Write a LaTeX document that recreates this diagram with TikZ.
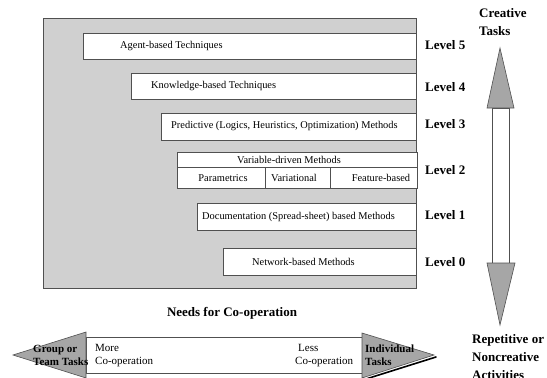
\documentclass[tikz,border=0pt]{standalone}
\usepackage{fontspec}
\setmainfont{Liberation Serif}
\definecolor{panelgray}{HTML}{D0D0D0}
\definecolor{headgray}{HTML}{A6A6A6}
\definecolor{edgegray}{HTML}{505050}
\begin{document}
\begin{tikzpicture}[x=1pt,y=-1pt,
  levbox/.style={draw=edgegray, fill=white, line width=0.6pt, rectangle, anchor=north west, inner sep=0pt, outer sep=0pt},
  boxtxt/.style={font=\fontsize{10.4}{12}\selectfont, inner sep=0pt},
  lev/.style={font=\bfseries\fontsize{13}{15}\selectfont, anchor=west, inner sep=0pt},
  sidetxt/.style={font=\bfseries\fontsize{13}{18}\selectfont, align=left, anchor=north west, inner sep=0pt},
  arrtxt/.style={font=\fontsize{11}{13}\selectfont, align=left, anchor=west, inner sep=0pt},
  arrbold/.style={font=\bfseries\fontsize{11}{13}\selectfont, align=left, anchor=west, inner sep=0pt},
  arrshape/.style={draw=edgegray, line width=0.6pt, line join=miter}
]
\useasboundingbox (0,0) rectangle (547,378);
% panel
\node[draw=edgegray, fill=panelgray, line width=0.7pt, rectangle, anchor=north west, inner sep=0pt,
      minimum width=373pt, minimum height=270pt] (panel) at (43,18) {};
% level boxes
\node[levbox, minimum width=333pt, minimum height=26pt] (b5) at (83,33) {};
\node[levbox, minimum width=285pt, minimum height=26pt] (b4) at (131,73) {};
\node[levbox, minimum width=255pt, minimum height=27pt] (b3) at (161,113) {};
\node[levbox, minimum width=240pt, minimum height=15pt] (b2) at (177,152) {};
\node[levbox, minimum width=88pt, minimum height=21pt] (b2a) at (177,167) {};
\node[levbox, minimum width=65pt, minimum height=21pt] (b2b) at (265,167) {};
\node[levbox, minimum width=87pt, minimum height=21pt] (b2c) at (330,167) {};
\node[levbox, minimum width=219pt, minimum height=27pt] (b1) at (197,203) {};
\node[levbox, minimum width=193pt, minimum height=27pt] (b0) at (223,248) {};
% box texts
\node[boxtxt, anchor=west] (t5) at (120,46) {Agent-based Techniques};
\node[boxtxt, anchor=west] (t4) at (151,86) {Knowledge-based Techniques};
\node[boxtxt, anchor=west] (t3) at (171,126.5) {Predictive (Logics, Heuristics, Optimization) Methods};
\node[boxtxt] (t2) at (289,160) {Variable-driven Methods};
\node[boxtxt] (t2a) at (223,178) {Parametrics};
\node[boxtxt] (t2b) at (294,178) {Variational};
\node[boxtxt] (t2c) at (381,178) {Feature-based};
\node[boxtxt, anchor=west] (t1) at (202,216.5) {Documentation (Spread-sheet) based Methods};
\node[boxtxt, anchor=west] (t0) at (252,261.5) {Network-based Methods};
% level labels
\node[lev] (l5) at (425,45) {Level 5};
\node[lev] (l4) at (425,87) {Level 4};
\node[lev] (l3) at (425,124) {Level 3};
\node[lev] (l2) at (425,170) {Level 2};
\node[lev] (l1) at (425,215) {Level 1};
\node[lev] (l0) at (425,262) {Level 0};
% vertical double arrow
\draw[arrshape, fill=white] (492,108) rectangle (509,263);
\filldraw[arrshape, fill=headgray] (500,48) -- (514,108) -- (487,108) -- cycle;
\filldraw[arrshape, fill=headgray] (487,263) -- (515,263) -- (500,325) -- cycle;
\node[sidetxt] (creative) at (479,8) {Creative\\Tasks};
\node[sidetxt] (repet) at (472,334) {Repetitive or\\Noncreative\\Activities};
% needs
\node[font=\bfseries\fontsize{13}{15}\selectfont, inner sep=0pt] (needs) at (232,313) {Needs for Co-operation};
% horizontal double arrow
\draw[arrshape, fill=white] (86,337) rectangle (362,373);
\filldraw[arrshape, fill=headgray] (86,332) -- (13,355) -- (86,378) -- cycle;
\draw[black, line width=1.6pt, line cap=round] (366,379) -- (436,357);
\filldraw[arrshape, fill=headgray] (362,333) -- (434,355) -- (362,378) -- cycle;
\node[arrbold] (group) at (33,355.5) {Group or\\Team Tasks};
\node[arrtxt] (more) at (95,355.5) {More\\Co-operation};
\node[arrtxt] (less) at (295,355.5) {\hspace*{3pt}Less\\Co-operation};
\node[arrbold] (indiv) at (365,355.5) {Individual\\Tasks};
\end{tikzpicture}
\end{document}
